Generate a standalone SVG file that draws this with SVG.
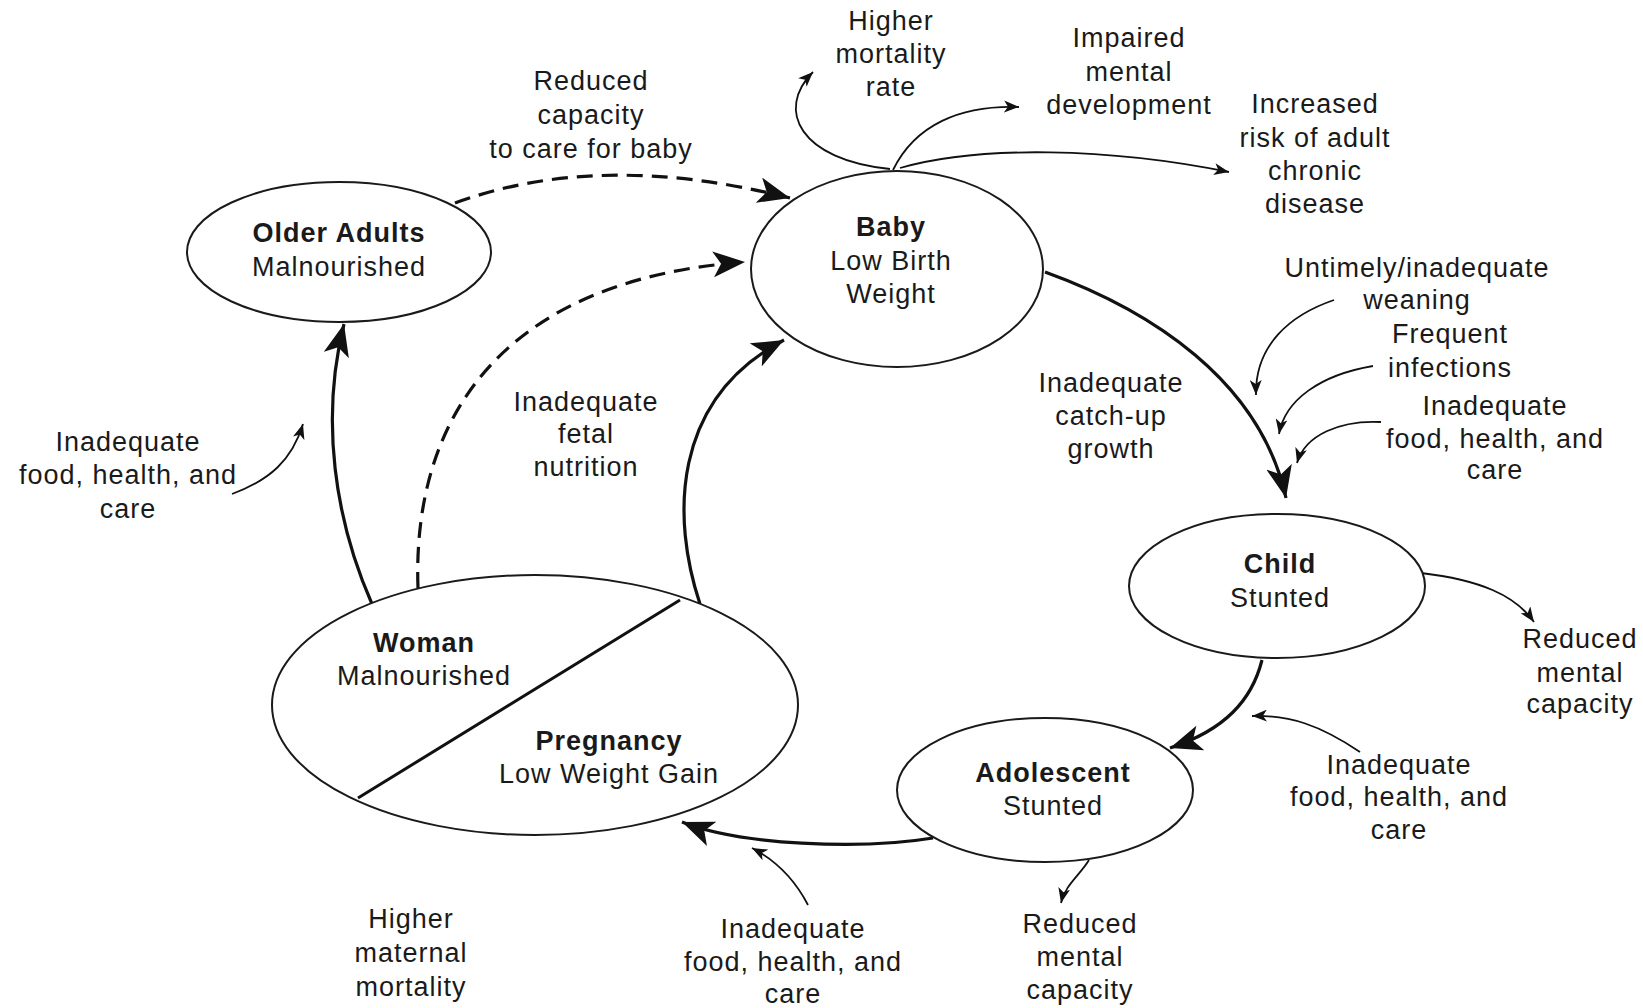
<svg xmlns="http://www.w3.org/2000/svg" width="1643" height="1008" viewBox="0 0 1643 1008">
<style>
text{font-family:"Liberation Sans",Arial,Helvetica,sans-serif;font-size:27px;letter-spacing:1px;fill:#1a1a1a;text-anchor:middle}
.b{font-weight:bold}
.node{fill:#fff;stroke:#1a1a1a;stroke-width:2}
.main{fill:none;stroke:#111;stroke-width:3.2}
.dash{fill:none;stroke:#111;stroke-width:3.2;stroke-dasharray:16 9}
.thin{fill:none;stroke:#111;stroke-width:1.8}
</style>
<defs>
<marker id="big" markerWidth="34" markerHeight="26" refX="32" refY="13" orient="auto" markerUnits="userSpaceOnUse"><path d="M0,0 L32,13 L0,26 L8,13 Z" fill="#111"/></marker>
<marker id="sm" markerWidth="16" markerHeight="12" refX="15" refY="6" orient="auto" markerUnits="userSpaceOnUse"><path d="M0,0 L15,6 L0,12 L4,6 Z" fill="#111"/></marker>
</defs>
<rect width="1643" height="1008" fill="#fff"/>

<g id="connectors">
<path class="dash" d="M455,203 Q600,150 790,198" marker-end="url(#big)"/>
<path class="dash" d="M418,588 C412,420 500,280 745,262" marker-end="url(#big)"/>
<path class="main" d="M372,604 C335,520 320,420 344,324" marker-end="url(#big)"/>
<path class="main" d="M700,604 C672,520 670,400 784,340" marker-end="url(#big)"/>
<path class="main" d="M1045,272 C1150,310 1260,380 1286,498" marker-end="url(#big)"/>
<path class="main" d="M1262,660 C1252,700 1225,730 1170,748" marker-end="url(#big)"/>
<path class="main" d="M933,838 C860,850 740,845 682,822" marker-end="url(#big)"/>
<path class="thin" d="M232,494 C270,480 292,460 303,424" marker-end="url(#sm)"/>
<path class="thin" d="M890,169 C800,160 775,110 813,72" marker-end="url(#sm)"/>
<path class="thin" d="M893,170 C915,125 960,105 1019,107" marker-end="url(#sm)"/>
<path class="thin" d="M900,168 C980,145 1110,148 1229,172" marker-end="url(#sm)"/>
<path class="thin" d="M1334,300 C1290,315 1255,345 1256,395" marker-end="url(#sm)"/>
<path class="thin" d="M1373,366 C1320,375 1285,400 1279,434" marker-end="url(#sm)"/>
<path class="thin" d="M1381,422 C1340,420 1305,435 1297,463" marker-end="url(#sm)"/>
<path class="thin" d="M1421,573 C1480,580 1515,595 1534,622" marker-end="url(#sm)"/>
<path class="thin" d="M1360,752 C1320,725 1290,715 1252,716" marker-end="url(#sm)"/>
<path class="thin" d="M1089,860 C1080,875 1065,885 1061,903" marker-end="url(#sm)"/>
<path class="thin" d="M808,905 C795,880 775,860 752,848" marker-end="url(#sm)"/>
</g>

<g id="older-adults">
<ellipse class="node" cx="339" cy="252" rx="152" ry="70"/>
<text class="b" x="339" y="242">Older Adults</text>
<text x="339" y="276">Malnourished</text>
</g>

<g id="baby">
<ellipse class="node" cx="897" cy="269" rx="146" ry="98"/>
<text class="b" x="891" y="236">Baby</text>
<text x="891" y="270">Low Birth</text>
<text x="891" y="303">Weight</text>
</g>

<g id="child">
<ellipse class="node" cx="1277" cy="586" rx="148" ry="72"/>
<text class="b" x="1280" y="573">Child</text>
<text x="1280" y="607">Stunted</text>
</g>

<g id="adolescent">
<ellipse class="node" cx="1045" cy="790" rx="148" ry="72"/>
<text class="b" x="1053" y="782">Adolescent</text>
<text x="1053" y="815">Stunted</text>
</g>

<g id="woman-pregnancy">
<ellipse class="node" cx="535" cy="705" rx="263" ry="130"/>
<line x1="358" y1="798" x2="680" y2="600" stroke="#111" stroke-width="3"/>
<text class="b" x="424" y="652">Woman</text>
<text x="424" y="685">Malnourished</text>
<text class="b" x="609" y="750">Pregnancy</text>
<text x="609" y="783">Low Weight Gain</text>
</g>

<g id="labels">
<text x="591" y="90">Reduced</text>
<text x="591" y="124">capacity</text>
<text x="591" y="158">to care for baby</text>

<text x="586" y="411">Inadequate</text>
<text x="586" y="443">fetal</text>
<text x="586" y="476">nutrition</text>

<text x="128" y="451">Inadequate</text>
<text x="128" y="484">food, health, and</text>
<text x="128" y="518">care</text>

<text x="891" y="30">Higher</text>
<text x="891" y="63">mortality</text>
<text x="891" y="96">rate</text>

<text x="1129" y="47">Impaired</text>
<text x="1129" y="81">mental</text>
<text x="1129" y="114">development</text>

<text x="1315" y="113">Increased</text>
<text x="1315" y="147">risk of adult</text>
<text x="1315" y="180">chronic</text>
<text x="1315" y="213">disease</text>

<text x="1111" y="392">Inadequate</text>
<text x="1111" y="425">catch-up</text>
<text x="1111" y="458">growth</text>

<text x="1417" y="277">Untimely/inadequate</text>
<text x="1417" y="309">weaning</text>
<text x="1450" y="343">Frequent</text>
<text x="1450" y="377">infections</text>
<text x="1495" y="415">Inadequate</text>
<text x="1495" y="448">food, health, and</text>
<text x="1495" y="479">care</text>

<text x="1580" y="648">Reduced</text>
<text x="1580" y="682">mental</text>
<text x="1580" y="713">capacity</text>

<text x="1399" y="774">Inadequate</text>
<text x="1399" y="806">food, health, and</text>
<text x="1399" y="839">care</text>

<text x="1080" y="933">Reduced</text>
<text x="1080" y="966">mental</text>
<text x="1080" y="999">capacity</text>

<text x="793" y="938">Inadequate</text>
<text x="793" y="971">food, health, and</text>
<text x="793" y="1003">care</text>

<text x="411" y="928">Higher</text>
<text x="411" y="962">maternal</text>
<text x="411" y="996">mortality</text>
</g>
</svg>
